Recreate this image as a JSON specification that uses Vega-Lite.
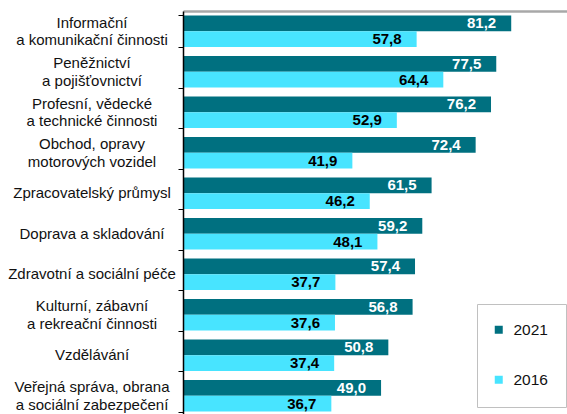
{
  "$schema": "https://vega.github.io/schema/vega-lite/v6.json",
  "autosize": "none",
  "width": 384,
  "height": 405,
  "padding": {"left": 183, "top": 11, "right": 0, "bottom": 0},
  "config": {
    "font": "Liberation Sans",
    "locale": {"number": {"decimal": ",", "thousands": " ", "grouping": [3], "currency": ["", " Kč"]}},
    "view": {"stroke": null}
  },
  "data": {
    "values": [
      {"odvetvi": "Informační|a komunikační činnosti", "rok": "2021", "hodnota": 81.2},
      {"odvetvi": "Informační|a komunikační činnosti", "rok": "2016", "hodnota": 57.8},
      {"odvetvi": "Peněžnictví|a pojišťovnictví", "rok": "2021", "hodnota": 77.5},
      {"odvetvi": "Peněžnictví|a pojišťovnictví", "rok": "2016", "hodnota": 64.4},
      {"odvetvi": "Profesní, vědecké|a technické činnosti", "rok": "2021", "hodnota": 76.2},
      {"odvetvi": "Profesní, vědecké|a technické činnosti", "rok": "2016", "hodnota": 52.9},
      {"odvetvi": "Obchod, opravy|motorových vozidel", "rok": "2021", "hodnota": 72.4},
      {"odvetvi": "Obchod, opravy|motorových vozidel", "rok": "2016", "hodnota": 41.9},
      {"odvetvi": "Zpracovatelský průmysl", "rok": "2021", "hodnota": 61.5},
      {"odvetvi": "Zpracovatelský průmysl", "rok": "2016", "hodnota": 46.2},
      {"odvetvi": "Doprava a skladování", "rok": "2021", "hodnota": 59.2},
      {"odvetvi": "Doprava a skladování", "rok": "2016", "hodnota": 48.1},
      {"odvetvi": "Zdravotní a sociální péče", "rok": "2021", "hodnota": 57.4},
      {"odvetvi": "Zdravotní a sociální péče", "rok": "2016", "hodnota": 37.7},
      {"odvetvi": "Kulturní, zábavní|a rekreační činnosti", "rok": "2021", "hodnota": 56.8},
      {"odvetvi": "Kulturní, zábavní|a rekreační činnosti", "rok": "2016", "hodnota": 37.6},
      {"odvetvi": "Vzdělávání", "rok": "2021", "hodnota": 50.8},
      {"odvetvi": "Vzdělávání", "rok": "2016", "hodnota": 37.4},
      {"odvetvi": "Veřejná správa, obrana|a sociální zabezpečení", "rok": "2021", "hodnota": 49.0},
      {"odvetvi": "Veřejná správa, obrana|a sociální zabezpečení", "rok": "2016", "hodnota": 36.7}
    ]
  },
  "encoding": {
    "y": {
      "field": "odvetvi",
      "type": "nominal",
      "sort": null,
      "scale": {"paddingInner": 0.22, "paddingOuter": 0.11},
      "axis": {
        "title": null,
        "labels": false,
        "tickBand": "extent",
        "tickSize": 5,
        "tickColor": "#000000",
        "domainColor": "#000000",
        "domainWidth": 1.5,
        "zindex": 1
      }
    },
    "x": {
      "field": "hodnota",
      "type": "quantitative",
      "scale": {"domain": [0, 95]},
      "axis": {
        "orient": "top",
        "title": null,
        "labels": false,
        "ticks": false,
        "grid": false,
        "domainColor": "#a8a8a8",
        "domainWidth": 2.5
      }
    }
  },
  "layer": [
    {
      "mark": {"type": "bar"},
      "encoding": {
        "yOffset": {"field": "rok", "type": "nominal", "sort": ["2021", "2016"], "scale": {"paddingInner": 0, "paddingOuter": 0}},
        "color": {
          "field": "rok",
          "type": "nominal",
          "scale": {"domain": ["2021", "2016"], "range": ["#007080", "#48E4FF"]},
          "legend": {
            "title": null,
            "orient": "none",
            "legendX": 294,
            "legendY": 293,
            "direction": "vertical",
            "symbolType": "square",
            "symbolSize": 64,
            "symbolOffset": -4,
            "labelFontSize": 15.5,
            "labelOffset": 7,
            "labelColor": "#111111",
            "rowPadding": 33,
            "padding": 18,
            "strokeColor": "#c0c0c0",
            "fillColor": "white"
          }
        }
      }
    },
    {
      "mark": {"type": "text", "align": "right", "baseline": "middle", "dx": -15, "fontWeight": "bold", "fontSize": 15},
      "encoding": {
        "yOffset": {"field": "rok", "type": "nominal", "sort": ["2021", "2016"], "scale": {"paddingInner": 0, "paddingOuter": 0}},
        "text": {"field": "hodnota", "type": "quantitative", "format": ".1f"},
        "color": {"condition": {"test": "datum.rok === '2021'", "value": "white"}, "value": "black"}
      }
    },
    {
      "transform": [{"filter": "datum.rok === '2021' && indexof(datum.odvetvi, '|') < 0"}],
      "mark": {"type": "text", "align": "center", "baseline": "middle", "dx": -91, "fontSize": 15, "color": "#111111"},
      "encoding": {
        "x": {"datum": 0, "type": "quantitative"},
        "text": {"field": "odvetvi", "type": "nominal"}
      }
    },
    {
      "transform": [{"filter": "datum.rok === '2021' && indexof(datum.odvetvi, '|') >= 0"}],
      "mark": {"type": "text", "align": "center", "baseline": "middle", "dx": -91, "dy": -8.5, "fontSize": 15, "lineHeight": 17.5, "lineBreak": "|", "color": "#111111"},
      "encoding": {
        "x": {"datum": 0, "type": "quantitative"},
        "text": {"field": "odvetvi", "type": "nominal"}
      }
    }
  ]
}
